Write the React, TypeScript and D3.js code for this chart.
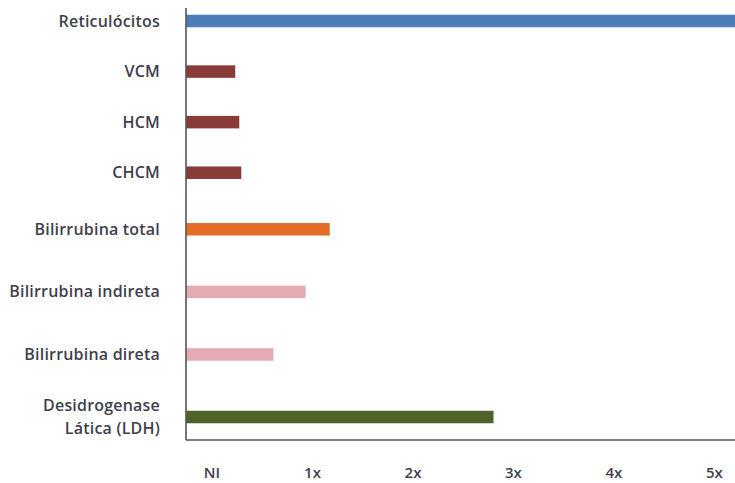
import React from "react";
import * as d3 from "d3";

const categories = [
  "Reticulócitos",
  "VCM",
  "HCM",
  "CHCM",
  "Bilirrubina total",
  "Bilirrubina indireta",
  "Bilirrubina direta",
  "Desidrogenase|Lática (LDH)",
];
const values = [6, 0.49, 0.53, 0.55, 1.43, 1.19, 0.87, 3.06];
const barColors = ["#4a7ebb", "#893b38", "#893b38", "#893b38", "#e46c26", "#e6aab4", "#e6aab4", "#4f6228"];
const tickValues = [0, 1, 2, 3, 4, 5];
const tickLabels = ["NI", "1x", "2x", "3x", "4x", "5x"];

const W = 735;
const H = 483;
const left = 186;
const right = 735;
const top = 8;
const bottom = 440;

export default function App() {
  const x = d3.scaleLinear().domain([0, 5.463]).range([left, right]);
  const idx = categories.map((_, i) => i);
  const n = categories.length;
  const y = d3.scaleLinear().domain([0, (n - 1) / 2, n - 1]).range([21, 198, 417]);
  const barH = 12.5;
  const font = "'Open Sans', sans-serif";
  const textColor = "#3f3f4d";
  return (
    <svg width={W} height={H} style={{ position: "absolute", left: 0, top: 0, display: "block" }} fontFamily={font}>
      <rect width={W} height={H} fill="#fff" />
      <defs>
        <clipPath id="plot">
          <rect x={left} y={0} width={right - left} height={bottom} />
        </clipPath>
      </defs>
      <g clipPath="url(#plot)">
        {idx.map((i) => (
          <rect
            key={i}
            x={x(0)}
            y={y(i) - barH / 2}
            width={Math.max(0, x(values[i]) - x(0))}
            height={barH}
            fill={barColors[i]}
          />
        ))}
      </g>
      <line x1={left} x2={left} y1={top} y2={bottom} stroke="#555" strokeWidth={1.6} />
      <line x1={left} x2={right} y1={bottom} y2={bottom} stroke="#555" strokeWidth={1.6} />
      {idx.map((i) => {
        const parts = categories[i].split("|");
        const lh = 23;
        const y0 = y(i) - ((parts.length - 1) * lh) / 2;
        return (
          <text
            key={i}
            x={160}
            textAnchor="end"
            fontSize={16}
            fontWeight={600}
            letterSpacing={0.2}
            fill={textColor}
          >
            {parts.map((p, j) => (
              <tspan key={j} x={160} y={y0 + j * lh} dy="0.35em">
                {p}
              </tspan>
            ))}
          </text>
        );
      })}
      {tickValues.map((v, i) => (
        <text
          key={v}
          x={x(v) + 26}
          y={473}
          dy="0.35em"
          textAnchor="middle"
          fontSize={15}
          fontWeight={600}
          fill={textColor}
        >
          {tickLabels[i]}
        </text>
      ))}
    </svg>
  );
}
